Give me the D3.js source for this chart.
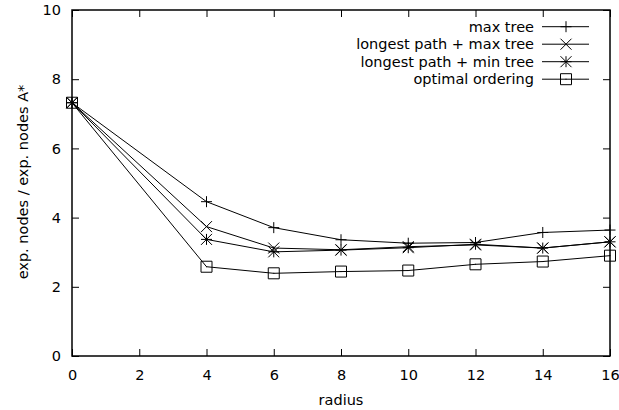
<!DOCTYPE html>
<html><head><meta charset="utf-8">
<script src="https://cdn.jsdelivr.net/npm/d3@7"></script>
<style>body{margin:0;background:#fff}svg{display:block}text{font-family:"DejaVu Sans",sans-serif;font-size:14.5px;fill:#000}</style>
</head><body>
<svg id="c" width="619" height="410"></svg>
<script>
const radius = [0, 4, 6, 8, 10, 12, 14, 16];
const seriesNames = ["max tree", "longest path + max tree", "longest path + min tree", "optimal ordering"];
const maxTree = [7.32, 4.46, 3.71, 3.36, 3.26, 3.28, 3.57, 3.64];
const lpMaxTree = [7.32, 3.74, 3.12, 3.07, 3.16, 3.21, 3.12, 3.30];
const lpMinTree = [7.32, 3.37, 3.01, 3.06, 3.13, 3.23, 3.12, 3.30];
const optimal = [7.32, 2.58, 2.39, 2.44, 2.47, 2.65, 2.73, 2.90];
const markers = ["plus", "cross", "star", "square"];
const xTicks = [0, 2, 4, 6, 8, 10, 12, 14, 16];
const yTicks = [0, 2, 4, 6, 8, 10];

const FS = "14.5px";
const svg = d3.select("#c");
const L = 72, R = 610, T = 10, B = 356;
const x = d3.scaleLinear().domain([0, 16]).range([L, R]);
const y = d3.scaleLinear().domain([0, 10]).range([B, T]);

const tl = 7;
const gB = svg.append("g").attr("transform", `translate(0,${B})`)
  .call(d3.axisBottom(x).tickValues(xTicks).tickSize(-tl).tickPadding(tl + 7).tickFormat(d3.format("d")));
const gT = svg.append("g").attr("transform", `translate(0,${T})`)
  .call(d3.axisTop(x).tickValues(xTicks).tickSize(-tl).tickFormat(""));
const gL = svg.append("g").attr("transform", `translate(${L},0)`)
  .call(d3.axisLeft(y).tickValues(yTicks).tickSize(-tl).tickPadding(tl + 4).tickFormat(d3.format("d")));
const gR = svg.append("g").attr("transform", `translate(${R},0)`)
  .call(d3.axisRight(y).tickValues(yTicks).tickSize(-tl).tickFormat(""));
[gB, gT, gL, gR].forEach(g => {
  g.attr("font-size", null).attr("font-family", null);
  g.select(".domain").remove();
  g.selectAll("line").attr("stroke", "#000").attr("stroke-width", 1);
  g.selectAll("text").style("font-family", "DejaVu Sans, sans-serif").style("font-size", FS).attr("fill", "#000");
});
svg.append("rect").attr("x", L).attr("y", T).attr("width", R - L).attr("height", B - T)
  .attr("fill", "none").attr("stroke", "#000").attr("stroke-width", 1.5);

svg.append("text").attr("x", (L + R) / 2).attr("y", 405).attr("text-anchor", "middle").text("radius");
svg.append("text").attr("transform", `translate(28,${182}) rotate(-90)`).attr("text-anchor", "middle").text("exp. nodes / exp. nodes A*");

function drawMarker(g, type, cx, cy) {
  const s = 5.5;
  const p = d3.path();
  if (type === "plus" || type === "star") {
    p.moveTo(cx - s, cy); p.lineTo(cx + s, cy);
    p.moveTo(cx, cy - s); p.lineTo(cx, cy + s);
  }
  if (type === "cross" || type === "star") {
    p.moveTo(cx - s, cy - s); p.lineTo(cx + s, cy + s);
    p.moveTo(cx - s, cy + s); p.lineTo(cx + s, cy - s);
  }
  if (type === "square") {
    p.rect(cx - s, cy - s, 2 * s, 2 * s);
    p.moveTo(cx - 0.5, cy); p.lineTo(cx + 0.5, cy);
  }
  g.append("path").attr("d", p.toString()).attr("fill", "none").attr("stroke", "#000").attr("stroke-width", 1);
}

const data = [maxTree, lpMaxTree, lpMinTree, optimal];
const line = d3.line().x((d, i) => x(radius[i])).y(d => y(d));
data.forEach((vals, k) => {
  const g = svg.append("g");
  g.append("path").attr("d", line(vals)).attr("fill", "none").attr("stroke", "#000").attr("stroke-width", 1);
  vals.forEach((v, i) => drawMarker(g, markers[k], x(radius[i]), y(v)));
});

const legY = [26.7, 44.2, 61.7, 79.2];
seriesNames.forEach((n, k) => {
  svg.append("text").attr("x", 534).attr("y", legY[k]).attr("dy", "0.35em").attr("text-anchor", "end").text(n);
  const g = svg.append("g");
  g.append("line").attr("x1", 542).attr("x2", 589).attr("y1", legY[k]).attr("y2", legY[k]).attr("stroke", "#000").attr("stroke-width", 1);
  drawMarker(g, markers[k], 566, legY[k]);
});
</script>
</body></html>
